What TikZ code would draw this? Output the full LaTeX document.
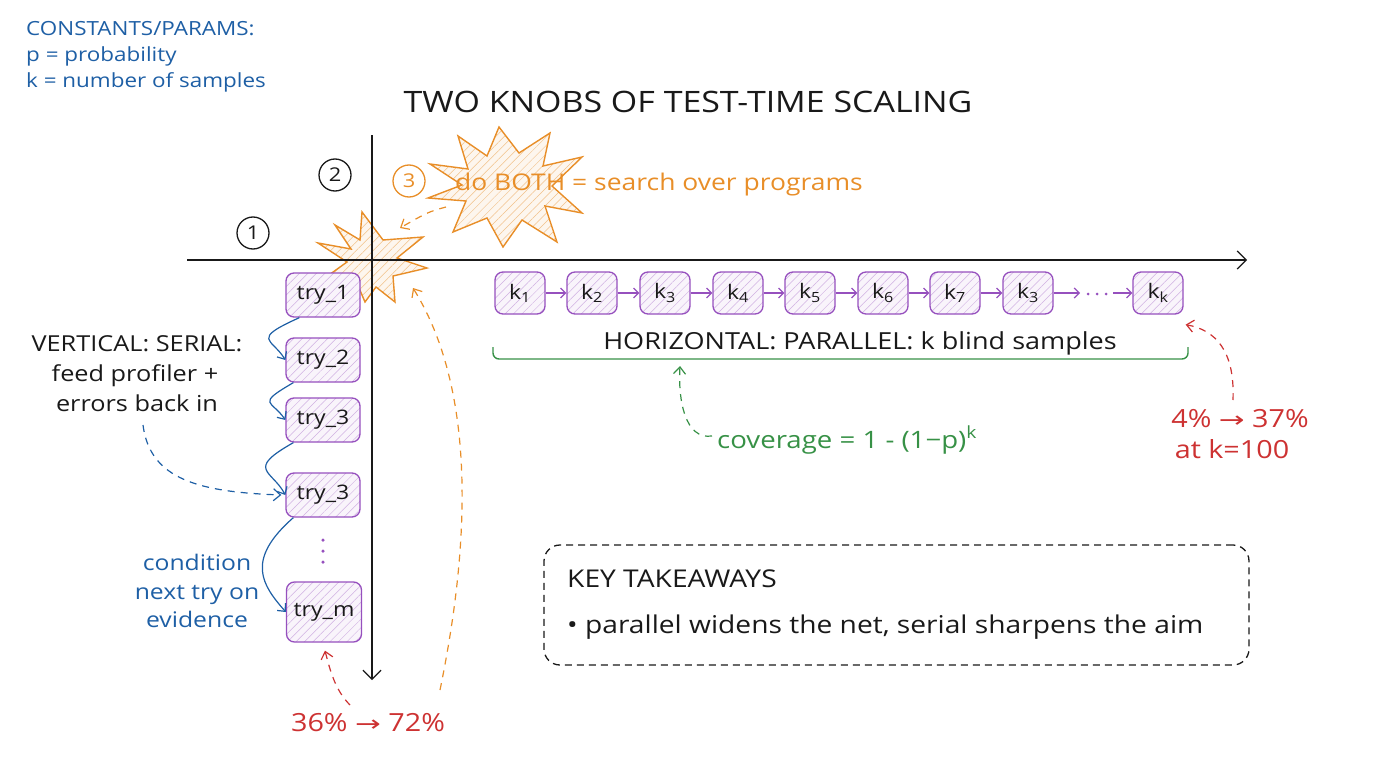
\documentclass[tikz,border=0pt]{standalone}
\usepackage{fontspec}
\usepackage{graphicx}
\setmainfont{Open Sans}[FakeStretch=1.15]
\newfontfamily\dv{DejaVu Sans}
\usetikzlibrary{arrows.meta,patterns.meta,calc}
\definecolor{cblue}{RGB}{30,95,165}
\definecolor{corange}{RGB}{232,142,40}
\definecolor{cpurple}{RGB}{150,80,190}
\definecolor{cgreen}{RGB}{55,145,70}
\definecolor{cred}{RGB}{205,50,50}
\definecolor{cink}{RGB}{25,25,25}
\newcommand{\fs}[1]{\fontsize{#1}{#1}\selectfont}
\newcommand{\rarr}{\ {\dv\fontsize{22}{22}\selectfont\scalebox{1.4}[1]{→}}\ }
\begin{document}
\begin{tikzpicture}[x=1pt,y=-1pt,
  every node/.style={inner sep=0pt, text=cink},
  hatch/.style={pattern={Lines[angle=45,distance=6pt,line width=0.5pt]}, pattern color=#1},
  trybox/.style={draw=cpurple, line width=1.3pt, rounded corners=8pt, minimum width=74pt, minimum height=44pt,
     preaction={fill=cpurple!6}, hatch=cpurple!45, font=\fs{20}},
  kbox/.style={trybox, minimum width=50pt, minimum height=42pt, font=\fs{20}},
  numc/.style={circle, draw=cink, line width=1.3pt, minimum size=32pt, font=\fs{19}},
  arr/.style={-{Straight Barb[length=7pt,width=12pt]}, line width=1.2pt},
  karr/.style={arr, cpurple, -{Straight Barb[length=5pt,width=10pt]}},
  barr/.style={arr, cblue, -{Straight Barb[length=6pt,width=11pt]}},
  dasharr/.style={arr, dashed, dash pattern=on 7pt off 6pt},
  star/.style={draw=corange, line width=1.4pt, line join=miter, preaction={fill=corange!8}, hatch=corange!55},
  pdot/.style={circle, fill=cpurple, minimum size=3.5pt}
]
\useasboundingbox (0,0) rectangle (1376,768);

% constants
\node[anchor=base west, font=\fs{19.5}, text=cblue] (c1) at (26,36) {CONSTANTS/PARAMS:};
\node[anchor=base west, font=\fs{19.5}, text=cblue] (c2) at (26,62) {p = probability};
\node[anchor=base west, font=\fs{19.5}, text=cblue] (c3) at (26,88) {k = number of samples};

% title
\node[anchor=base, font=\fs{29.5}] (title) at (688,112) {TWO KNOBS OF TEST-TIME SCALING};

% stars
\draw[star] (499,127) -- (519,153) -- (550,133) -- (543,166) -- (582,157) -- (552,186) -- (582,213)
  -- (545,206) -- (557,242) -- (522,220) -- (503,247) -- (487,218) -- (453,232) -- (466,201)
  -- (428,198) -- (462,185) -- (430,164) -- (468,169) -- (458,136) -- (487,156) -- cycle;
\draw[star] (362,212) -- (383,240) -- (423,237) -- (397,258) -- (427,268) -- (393,276) -- (395,302)
  -- (376,287) -- (365,302) -- (356,281) -- (322,280) -- (347,262) -- (318,243) -- (351,249)
  -- (335,225) -- (360,240) -- cycle;
\coordinate (bigA) at (446,207);
\coordinate (smallA) at (400,228);

% axes
\coordinate (hs) at (187,260);
\coordinate (he) at (1247,260);
\coordinate (vs) at (372,135);
\coordinate (ve) at (372,680);
\draw[arr, cink, -{Straight Barb[length=9pt,width=18pt]}] (hs) -- (he);
\draw[arr, cink, -{Straight Barb[length=9pt,width=18pt]}] (vs) -- (ve);

% circled numbers
\node[numc] (n1) at (253,233) {1};
\node[numc] (n2) at (335,175) {2};
\node[numc, draw=corange, text=corange] (n3) at (409,181) {3};
\node[anchor=base west, font=\fs{23}, text=corange] (both) at (455,190) {do BOTH = search over programs};

\draw[dasharr, corange] (bigA) .. controls (428,212) .. (smallA);

% try boxes
\node[trybox] (t1) at (323,295) {try\_1};
\node[trybox] (t2) at (323,360) {try\_2};
\node[trybox] (t3) at (323,420) {try\_3};
\node[trybox] (t4) at (323,495) {try\_3};
\node[pdot] (d1) at (323,540) {};
\node[pdot] (d2) at (323,551) {};
\node[pdot] (d3) at (323,562) {};
\node[trybox, minimum width=75pt, minimum height=60pt] (tm) at (324,612) {try\_m};

\draw[barr] ($(t1.south west)+(14,0)$) .. controls (250,340) and (272,338) .. (t2.west);
\draw[barr] ($(t2.south west)+(8,0)$) .. controls (255,405) and (272,400) .. (t3.west);
\draw[barr] ($(t3.south west)+(8,0)$) .. controls (245,470) and (272,470) .. (t4.west);
\draw[barr] ($(t4.south west)+(8,0)$) .. controls (245,560) and (262,585) .. (tm.west);

% left texts
\node[anchor=base, font=\fs{22}] (vl1) at (137,351) {VERTICAL: SERIAL:};
\node[anchor=base, font=\fs{22}] (vl2) at (135,381) {feed profiler +};
\node[anchor=base, font=\fs{22}] (vl3) at (137,411) {errors back in};
\coordinate (vd) at (143,425);
\draw[dasharr, cblue] (vd) .. controls (150,480) and (200,492) .. ($(t4.west)+(-4,0)$);

\node[anchor=base, font=\fs{21.5}, text=cblue] (cd1) at (197,570) {condition};
\node[anchor=base, font=\fs{21.5}, text=cblue] (cd2) at (197,599) {next try on};
\node[anchor=base, font=\fs{21.5}, text=cblue] (cd3) at (197,627) {evidence};

% bottom red
\node[anchor=base, font=\fs{25}, text=cred] (pct1) at (368,731) {36\%\rarr72\%};
\coordinate (r1) at (350,705);
\draw[dasharr, cred] (r1) .. controls (335,690) and (330,670) .. ($(tm.south)+(1,8)$);

% long orange dashed
\coordinate (o1) at (440,690);
\draw[dasharr, corange] (o1) .. controls (475,520) and (470,380) .. (413,288);

% k boxes
\foreach \i/\x/\l in {1/520/1,2/592/2,3/665/3,4/738/4,5/810/5,6/883/6,7/955/7,8/1028/3}{
  \node[kbox] (k\i) at (\x,293) {k\textsubscript{\l}};
}
\node[kbox] (kk) at (1158,293) {k\textsubscript{k}};
\foreach \a/\b in {1/2,2/3,3/4,4/5,5/6,6/7,7/8}{
  \draw[karr] (k\a) -- (k\b);
}
\coordinate (kd1) at (1080,293);
\coordinate (kd2) at (1113,293);
\draw[karr] (k8) -- (kd1);
\node[pdot, minimum size=3pt] (kdot1) at (1088,294) {};
\node[pdot, minimum size=3pt] (kdot2) at (1097,294) {};
\node[pdot, minimum size=3pt] (kdot3) at (1106,294) {};
\draw[karr] (kd2) -- (kk);

\node[anchor=base, font=\fs{23.5}] (hl) at (860,349) {HORIZONTAL: PARALLEL: k blind samples};
\coordinate (b1) at (493,347);
\coordinate (b2) at (1188,347);
\draw[cgreen, line width=1.4pt, rounded corners=6pt] (b1) -- (493,359) -- (1188,359) -- (b2);

\node[anchor=base west, font=\fs{24}, text=cgreen] (cov) at (717,448) {coverage = 1 - (1−p)\textsuperscript{k}};
\coordinate (cv) at (680,366);
\draw[dasharr, cgreen] ($(cov.west)+(-5,-4)$) .. controls (685,440) and (678,400) .. (cv);

\node[anchor=base, font=\fs{25}, text=cred] (pct2) at (1240,427) {4\%\rarr37\%};
\node[anchor=base, font=\fs{25}, text=cred] (pct3) at (1232,458) {at k=100};
\coordinate (r2) at (1233,400);
\draw[dasharr, cred] (r2) .. controls (1235,350) and (1215,330) .. ($(kk.south east)+(2,10)$);

% key takeaways
\node[draw=cink, dashed, dash pattern=on 7pt off 5pt, line width=1.3pt, rounded corners=16pt,
  minimum width=705pt, minimum height=120pt] (kt) at (896.5,605) {};
\node[anchor=base west, font=\fs{24.5}] (kt1) at (567,587) {KEY TAKEAWAYS};
\node[anchor=base west, font=\fs{24.5}] (kt2) at (567,633) {• parallel widens the net, serial sharpens the aim};

\end{tikzpicture}
\end{document}
